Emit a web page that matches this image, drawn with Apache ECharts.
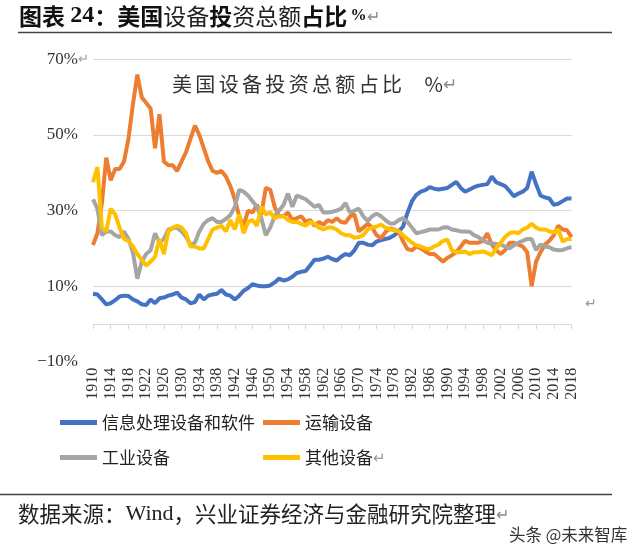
<!DOCTYPE html>
<html>
<head>
<meta charset="utf-8">
<script src="https://cdn.jsdelivr.net/npm/echarts@6/dist/echarts.min.js"></script>
<style>
  html, body { margin: 0; padding: 0; background: #fff; }
  #main { width: 640px; height: 547px; }
</style>
</head>
<body>
<div id="main"></div>
<script>
// 年份 1910-2018
const years = [];
for (let y = 1910; y <= 2018; y++) years.push(String(y));

const seriesNames = ["信息处理设备和软件", "运输设备", "工业设备", "其他设备"];

// 信息处理设备和软件 %
const infoEquip = [
  8.0, 7.8, 6.5, 5.2, 5.5, 6.3, 7.3, 7.5, 7.4, 6.5,
  6.0, 5.2, 5.0, 6.5, 5.5, 6.8, 7.0, 7.5, 7.8, 8.3,
  7.0, 6.5, 5.5, 5.8, 7.8, 6.5, 7.5, 7.8, 8.0, 9.0,
  7.8, 7.5, 6.5, 7.5, 8.8, 9.5, 10.5, 10.2, 10.0, 10.0,
  10.2, 11.0, 12.0, 11.5, 11.8, 12.5, 13.5, 13.8, 14.0, 15.5,
  17.0, 17.0, 17.3, 17.8, 17.2, 16.8, 17.8, 18.5, 18.2, 19.5,
  21.5, 21.5, 21.0, 20.8, 21.8, 22.2, 22.5, 22.8, 23.5, 24.5,
  25.8, 29.5, 32.5, 34.2, 35.0, 35.4, 36.2, 35.8, 35.6, 35.8,
  36.0, 36.8, 37.6, 36.0, 35.0, 35.6, 36.2, 36.6, 36.8, 37.0,
  39.0, 37.5, 37.0, 36.5, 35.2, 33.8, 34.5, 35.0, 36.0, 40.3,
  37.0, 34.0, 33.5, 33.2, 31.5, 31.8, 32.5, 33.2, 33.2
];

// 运输设备 %
const transEquip = [
  20.9, 24.0, 32.0, 44.0, 38.0, 41.0, 41.0, 43.0, 49.0, 58.0,
  66.0, 60.0, 58.5, 57.0, 46.5, 55.5, 43.0, 42.0, 42.0, 40.5,
  43.0, 45.5, 49.0, 52.5, 50.0, 46.5, 43.0, 40.5, 40.0, 40.5,
  39.0, 36.5, 33.0, 28.5, 26.0, 30.0, 29.5, 31.5, 29.0, 36.0,
  35.5, 31.0, 28.5, 28.5, 29.5, 27.5, 28.0, 28.5, 27.0, 27.5,
  26.0, 27.0, 26.2, 27.5, 27.0, 28.0, 27.0, 26.8, 28.5, 29.0,
  24.5, 25.5, 26.5, 25.5, 23.5, 22.7, 24.3, 25.3, 25.0, 24.5,
  21.8, 19.8, 19.5, 20.5, 20.0, 19.2, 18.5, 18.5, 17.5, 16.5,
  17.5, 18.2, 19.0, 20.5, 22.0, 21.5, 21.5, 21.5, 22.0, 24.0,
  21.0, 19.5, 18.5, 19.5, 21.5, 21.5, 21.0, 20.5, 19.0, 10.0,
  16.5, 19.0, 21.0, 22.0, 23.5, 26.0, 25.0, 24.8, 23.0
];

// 工业设备 %
const indEquip = [
  33.0, 30.5, 23.5, 24.5, 24.5, 23.5, 23.0, 24.5, 22.5, 19.0,
  12.0, 16.5, 18.5, 19.5, 24.0, 21.5, 22.5, 25.0, 25.3, 25.5,
  24.5, 23.0, 21.0, 21.5, 24.5, 26.5, 27.5, 28.0, 27.0, 27.0,
  27.8, 28.8, 31.0, 35.5, 35.0, 34.0, 32.5, 31.0, 28.0, 23.5,
  25.5, 28.5, 30.0, 31.5, 34.5, 31.0, 34.0, 33.5, 33.0, 32.0,
  31.0, 31.5, 29.5, 29.5, 29.7, 30.0, 30.5, 32.0, 29.5, 30.0,
  30.5, 28.5, 27.2, 28.5, 29.2, 28.5, 27.5, 26.6, 26.6, 27.5,
  28.0, 27.0, 25.5, 24.0, 24.3, 24.6, 25.0, 25.0, 25.0, 25.5,
  25.6, 25.0, 24.8, 24.5, 24.5, 24.4, 23.5, 23.0, 22.2, 21.5,
  21.3, 21.2, 21.0, 20.5, 20.0, 20.8, 21.5, 22.0, 22.5, 22.5,
  19.6, 21.0, 20.5, 20.3, 19.7, 19.5, 19.6, 20.0, 20.4
];

// 其他设备 %
const otherEquip = [
  37.5, 41.5, 25.5, 24.5, 30.5, 29.0, 25.5, 22.5, 22.0, 20.5,
  18.5, 17.0, 15.5, 16.5, 17.8, 22.5, 18.5, 24.5, 25.5, 26.0,
  25.5, 24.0, 20.5, 20.5, 20.0, 20.0, 22.5, 25.0, 25.5, 26.0,
  24.5, 27.5, 25.0, 29.0, 24.0, 27.0, 27.5, 26.0, 31.0, 29.0,
  29.5, 28.0, 28.5, 28.5, 27.5, 27.0, 27.0, 26.5, 26.0, 27.0,
  26.5, 25.5, 25.0, 25.5, 25.5, 25.0, 24.0, 23.5, 23.5, 22.8,
  23.0, 23.5, 25.0, 25.5, 25.8, 26.3, 25.5, 25.0, 24.8, 24.5,
  23.5, 22.5, 21.5, 20.8, 20.5, 20.0, 19.8, 20.5, 21.0, 22.0,
  22.3, 19.5, 19.0, 19.0, 19.2, 18.5, 19.0, 19.0, 19.2, 18.8,
  18.2, 20.0, 21.5, 23.0, 24.0, 24.3, 24.0, 25.0, 25.5, 26.5,
  25.5, 25.0, 25.0, 24.5, 24.2, 25.0, 21.8, 22.5, 22.5
];

const yTicks = [-10, 10, 30, 50, 70];
const colors = ["#4472C4", "#ED7D31", "#A5A5A5", "#FFC000"];

const serifFont = "'Liberation Serif', 'Noto Sans CJK SC', serif";
const cjkFont = "'Noto Sans CJK SC', sans-serif";

const chart = echarts.init(document.getElementById("main"));

// 图例: 2 行 2 列, 每项单独定位
const legendPos = [
  { left: 55, top: 409 },
  { left: 258, top: 409 },
  { left: 55, top: 444 },
  { left: 258, top: 444 },
];
const legends = seriesNames.map((name, i) => ({
  data: [name],
  left: legendPos[i].left,
  top: legendPos[i].top,
  icon: "rect",
  itemWidth: 37,
  itemHeight: 5,
  textStyle: {
    fontFamily: cjkFont,
    fontSize: 17,
    color: "#222",
  },
  formatter: (n) => (n === "其他设备" ? n + "{r|↵}" : n),
}));
legends[3].textStyle.rich = { r: { color: "#999", fontSize: 15 } };

const option = {
  backgroundColor: "#fff",
  animation: false,
  color: colors,
  title: {
    text: "美\u2006国\u2006设\u2006备\u2006投\u2006资\u2006总\u2006额\u2006占\u2006比     %{r|↵}",
    left: 167,
    top: 69,
    textStyle: {
      fontFamily: cjkFont,
      fontSize: 20,
      fontWeight: "normal",
      color: "#333",
      rich: { r: { color: "#888", fontSize: 17 } },
    },
  },
  grid: {
    left: 93,
    right: 68.5,
    top: 59.4,
    bottom: 185.2,
  },
  legend: legends,
  xAxis: {
    type: "category",
    data: years,
    boundaryGap: false,
    axisLine: { onZero: true, lineStyle: { color: "#d9d9d9", width: 1 } },
    axisTick: {
      show: true,
      interval: 3,
      length: 5,
      lineStyle: { color: "#d9d9d9" },
    },
    axisLabel: {
      interval: 3,
      rotate: 90,
      margin: 6,
      fontFamily: serifFont,
      fontSize: 16,
      color: "#333",
    },
  },
  yAxis: {
    type: "value",
    min: yTicks[0],
    max: yTicks[yTicks.length - 1],
    interval: 20,
    axisLine: { show: false },
    axisTick: { show: false },
    axisLabel: {
      formatter: (v) => {
        const t = (v < 0 ? "\u2212" + Math.abs(v) : v) + "%";
        return v === 70 ? t + "{r|↵}" : t + "{sp|}";
      },
      fontFamily: serifFont,
      fontSize: 17,
      color: "#333",
      margin: 4,
      rich: {
        r: { color: "#999", fontSize: 13, width: 11 },
        sp: { width: 11 },
      },
    },
    splitLine: {
      show: true,
      showMinLine: false,
      lineStyle: { color: "#d9d9d9", width: 1 },
    },
  },
  series: [
    { name: seriesNames[0], data: infoEquip },
    { name: seriesNames[1], data: transEquip },
    { name: seriesNames[2], data: indEquip },
    { name: seriesNames[3], data: otherEquip },
  ].map((s) => ({
    name: s.name,
    type: "line",
    data: s.data,
    showSymbol: false,
    symbol: "none",
    lineStyle: { width: 4 },
  })),
  graphic: [
    {
      type: "text",
      left: 19,
      top: 4,
      style: {
        text: "{b|图表 }{s|24}{b|：美国}{n|设备}{b|投}{n|资总额}{b|占比} {p|%}{r|↵}",
        rich: {
          b: { fontFamily: cjkFont, fontSize: 23, fontWeight: "bold", fill: "#111" },
          s: { fontFamily: serifFont, fontSize: 24, fontWeight: "bold", fill: "#111" },
          n: { fontFamily: cjkFont, fontSize: 23, fontWeight: "normal", fill: "#222" },
          p: { fontFamily: serifFont, fontSize: 16, fontWeight: "bold", fill: "#111" },
          r: { fontFamily: cjkFont, fontSize: 16, fill: "#888" },
        },
      },
    },
    {
      type: "line",
      shape: { x1: 18, y1: 32.5, x2: 612, y2: 32.5 },
      style: { stroke: "#444", lineWidth: 1.5 },
    },
    {
      type: "text",
      left: 585,
      top: 296,
      style: { text: "↵", fontSize: 14, fill: "#999", fontFamily: cjkFont },
    },
    {
      type: "line",
      shape: { x1: 0, y1: 494.5, x2: 612, y2: 494.5 },
      style: { stroke: "#444", lineWidth: 1.5 },
    },
    {
      type: "text",
      left: 18,
      top: 503,
      style: {
        text: "{c|数据来源：}{w|Wind}{c|，兴业证券经济与金融研究院整理}{r|↵}",
        rich: {
          c: { fontFamily: cjkFont, fontSize: 21.5, fill: "#222" },
          w: { fontFamily: serifFont, fontSize: 22, fill: "#222" },
          r: { fontFamily: cjkFont, fontSize: 16, fill: "#888" },
        },
      },
    },
    {
      type: "text",
      left: 509,
      top: 526,
      style: {
        text: "头条 @未来智库",
        fontFamily: cjkFont,
        fontSize: 16.5,
        fill: "#333",
      },
    },
  ],
};

chart.setOption(option);
</script>
</body>
</html>
